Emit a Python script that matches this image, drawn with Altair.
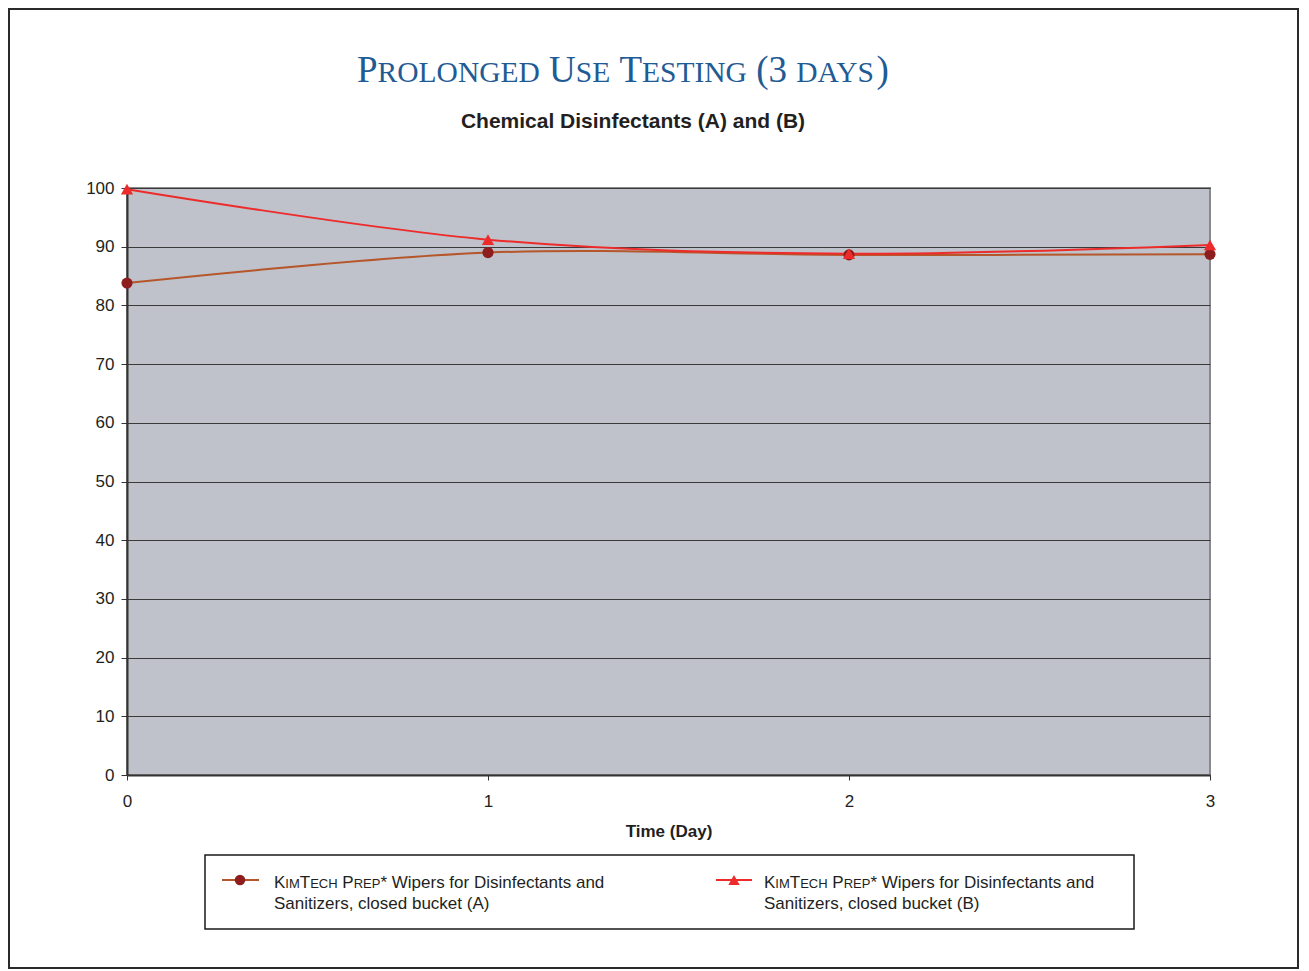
import altair as alt
import pandas as pd

# ---- data ----
days = [0, 1, 2, 3]
series_a = [83.8, 89.0, 88.6, 88.7]
series_b = [99.8, 91.2, 88.8, 90.3]
y_ticks = [0, 10, 20, 30, 40, 50, 60, 70, 80, 90, 100]
x_ticks = [0, 1, 2, 3]

title_segments = [("P", "L"), ("ROLONGED", "S"), (" ", "L"), ("U", "L"), ("SE", "S"), (" ", "L"),
                  ("T", "L"), ("ESTING", "S"), (" ", "L"), ("(3", "L"), (" ", "L"), ("DAYS", "S"), (")", "L")]
subtitle = "Chemical Disinfectants (A) and (B)"
x_title = "Time (Day)"
legend_line1 = [("K", "L"), ("IM", "S"), ("T", "L"), ("ECH", "S"), (" ", "L"), ("P", "L"), ("REP", "S"),
                ("* Wipers for Disinfectants and", "L")]
legend_line2_a = "Sanitizers, closed bucket (A)"
legend_line2_b = "Sanitizers, closed bucket (B)"

# ---- glyph advance widths (per 1000 em) ----
SERIF = {'P': 556, 'R': 667, 'O': 722, 'L': 611, 'N': 722, 'G': 722, 'E': 611, 'D': 722, 'U': 722,
         'S': 556, 'T': 611, 'I': 333, 'Y': 722, 'A': 722, ' ': 250, '(': 333, ')': 333, '3': 500}
SANS = {'K': 667, 'I': 278, 'M': 833, 'T': 611, 'E': 667, 'C': 722, 'H': 722, 'P': 667, 'R': 722,
        ' ': 278, '*': 389}


def seg_width(text, size, table):
    return sum(table.get(c, 556) for c in text) * size / 1000.0


W, H = 1083, 587
SANS_FONT = "Liberation Sans"
SERIF_FONT = "Liberation Serif"
TITLE_COLOR = "#1F5B94"
TEXT_COLOR = "#231F20"
COL_A_LINE = "#B5562B"
COL_A_MARK = "#8E1E1E"
COL_B = "#EE2B2B"

layers = []

# outer frame
frame = alt.Chart(pd.DataFrame({"k": [0]})).mark_rect(
    filled=False, stroke="#2A2A2A", strokeWidth=2
).encode(x=alt.value(-118), x2=alt.value(1171), y=alt.value(-179), y2=alt.value(780))
layers.append(frame)

x_enc = alt.X("day:Q", scale=alt.Scale(domain=[0, 3], nice=False),
              axis=alt.Axis(values=x_ticks, grid=False, tickSize=5, labelPadding=13, labelFlush=False,
                            title=x_title, titlePadding=14, format="d"))
y_enc = alt.Y("value:Q", scale=alt.Scale(domain=[0, 100], nice=False),
              axis=alt.Axis(values=y_ticks, grid=True, tickSize=6, labelPadding=7, title=None))

df_a = pd.DataFrame({"day": days, "value": series_a})
df_b = pd.DataFrame({"day": days, "value": series_b})

line_a = alt.Chart(df_a).mark_line(color=COL_A_LINE, strokeWidth=2, interpolate="cardinal").encode(x=x_enc, y=y_enc)
line_b = alt.Chart(df_b).mark_line(color=COL_B, strokeWidth=2, interpolate="cardinal").encode(x=x_enc, y=y_enc)
pts_a = alt.Chart(df_a).mark_point(shape="circle", filled=True, opacity=1, size=125, color=COL_A_MARK).encode(x=x_enc, y=y_enc)
pts_b = alt.Chart(df_b).mark_point(shape="triangle-up", filled=True, opacity=1, size=150, color=COL_B).encode(x=x_enc, y=y_enc)
layers += [line_a, line_b, pts_a, pts_b]


def text_layer(t, x, y, size, font, color, weight="normal", align="left"):
    return alt.Chart(pd.DataFrame({"t": [t]})).mark_text(
        align=align, baseline="alphabetic", font=font, fontSize=size, fontWeight=weight, color=color
    ).encode(text="t:N", x=alt.value(x), y=alt.value(y))


def small_caps(segments, x0, y, big, small, font, table, color):
    out = []
    x = x0
    for seg, kind in segments:
        size = big if kind == "L" else small
        if seg.strip():
            out.append(text_layer(seg, x, y, size, font, color))
        x += seg_width(seg, size, table)
    return out


# title
layers += small_caps(title_segments, 230, -106, 37, 29.5, SERIF_FONT, SERIF, TITLE_COLOR)
# subtitle
layers.append(text_layer(subtitle, 506, -60, 21, SANS_FONT, TEXT_COLOR, weight="bold", align="center"))

# legend box
legend_box = alt.Chart(pd.DataFrame({"k": [0]})).mark_rect(
    fill="white", stroke="#1A1A1A", strokeWidth=1.5
).encode(x=alt.value(78), x2=alt.value(1007), y=alt.value(667), y2=alt.value(741))
layers.append(legend_box)

one = pd.DataFrame({"k": [0]})
# legend entry A
layers.append(alt.Chart(one).mark_rule(color=COL_A_LINE, strokeWidth=2).encode(
    x=alt.value(95), x2=alt.value(132), y=alt.value(692)))
layers.append(alt.Chart(one).mark_point(shape="circle", filled=True, opacity=1, size=110, color=COL_A_MARK).encode(
    x=alt.value(113), y=alt.value(692)))
layers += small_caps(legend_line1, 147, 700, 17, 13, SANS_FONT, SANS, TEXT_COLOR)
layers.append(text_layer(legend_line2_a, 147, 721, 17, SANS_FONT, TEXT_COLOR))
# legend entry B
layers.append(alt.Chart(one).mark_rule(color=COL_B, strokeWidth=2).encode(
    x=alt.value(589), x2=alt.value(625), y=alt.value(692)))
layers.append(alt.Chart(one).mark_point(shape="triangle-up", filled=True, opacity=1, size=130, color=COL_B).encode(
    x=alt.value(607), y=alt.value(692)))
layers += small_caps(legend_line1, 637, 700, 17, 13, SANS_FONT, SANS, TEXT_COLOR)
layers.append(text_layer(legend_line2_b, 637, 721, 17, SANS_FONT, TEXT_COLOR))

chart = alt.layer(*layers).properties(
    width=W, height=H, padding=0, background="white"
).configure_view(
    fill="#BFC2CA", stroke="#8A8A8A", strokeWidth=2
).configure_axis(
    labelFont=SANS_FONT, labelFontSize=17, labelColor=TEXT_COLOR,
    titleFont=SANS_FONT, titleFontSize=17, titleFontWeight="bold", titleColor=TEXT_COLOR,
    tickColor="#333333", domainColor="#333333", domainWidth=2, gridColor="#3A3A3A", gridWidth=1
)

chart.save("out.html", embed_options={"renderer": "svg", "actions": False})
